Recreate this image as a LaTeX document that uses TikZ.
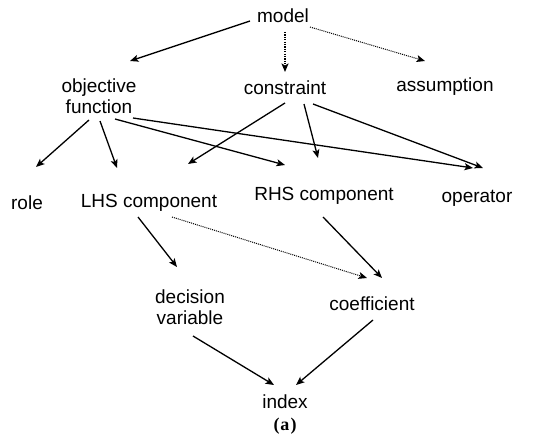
\documentclass[tikz,border=0pt]{standalone}
\usepackage{fontspec}
\setmainfont{Liberation Sans}
\newfontfamily\capfont{Liberation Serif}
\usetikzlibrary{arrows.meta}
\begin{document}
\begin{tikzpicture}[x=1pt,y=-1pt,
  lbl/.style={inner sep=0pt,align=center,font=\fontsize{19}{21.5}\selectfont},
  arr/.style={draw=black,line width=1.3pt,-{Stealth[length=8.5pt,width=7pt,inset=2pt]}},
  dotarr/.style={arr,line width=1pt,dash pattern=on 1pt off 1pt},
  thickdot/.style={arr,line width=2pt,dash pattern=on 1.2pt off 1.2pt}]
\useasboundingbox (0,0) rectangle (554,436);
\node[lbl] (model) at (283,16) {model};
\node[lbl] (obj) at (99,96) {objective\\function};
\node[lbl] (con) at (285,88) {constraint};
\node[lbl] (ass) at (445,87) {assumption};
\node[lbl] (role) at (27,203) {role};
\node[lbl] (lhs) at (149,203) {LHS component};
\node[lbl] (rhs) at (324,196) {RHS component};
\node[lbl] (op) at (477,198) {operator};
\node[lbl] (dv) at (190,307) {decision\\variable};
\node[lbl] (coef) at (372,304) {coefficient};
\node[lbl] (idx) at (285,402) {index};
\node[inner sep=0pt,font=\capfont\bfseries\fontsize{18}{20}\selectfont] (cap) at (285,426) {(\kern1pt a\kern1pt)};
% model level
\draw[arr] ([shift={(-33,5)}]model.center) -- ([shift={(31,-35)}]obj.center);
\draw[thickdot] ([shift={(2,16)}]model.center) -- ([shift={(0,-16)}]con.center);
\draw[dotarr] ([shift={(27,11)}]model.center) -- ([shift={(-20,-26)}]ass.center);
% objective function
\draw[arr] ([shift={(-10,24)}]obj.center) -- ([shift={(9,-36)}]role.center);
\draw[arr] ([shift={(1,25)}]obj.center) -- ([shift={(-32,-35)}]lhs.center);
\draw[arr] ([shift={(16,23)}]obj.center) -- ([shift={(-39,-31)}]rhs.center);
\draw[arr] ([shift={(34,22)}]obj.center) -- ([shift={(-4,-30)}]op.center);
% constraint
\draw[arr] ([shift={(0,15)}]con.center) -- ([shift={(39,-39)}]lhs.center);
\draw[arr] ([shift={(19,16)}]con.center) -- ([shift={(-6,-38)}]rhs.center);
\draw[arr] ([shift={(28,16)}]con.center) -- ([shift={(6,-30)}]op.center);
% components
\draw[arr] ([shift={(-11,14)}]lhs.center) -- ([shift={(-13,-40)}]dv.center);
\draw[dotarr] ([shift={(23,14)}]lhs.center) -- ([shift={(-5,-26)}]coef.center);
\draw[arr] ([shift={(-1,21)}]rhs.center) -- ([shift={(10,-26)}]coef.center);
% index
\draw[arr] ([shift={(3,29)}]dv.center) -- ([shift={(-11,-17)}]idx.center);
\draw[arr] ([shift={(1,16)}]coef.center) -- ([shift={(11,-17)}]idx.center);
\end{tikzpicture}
\end{document}
